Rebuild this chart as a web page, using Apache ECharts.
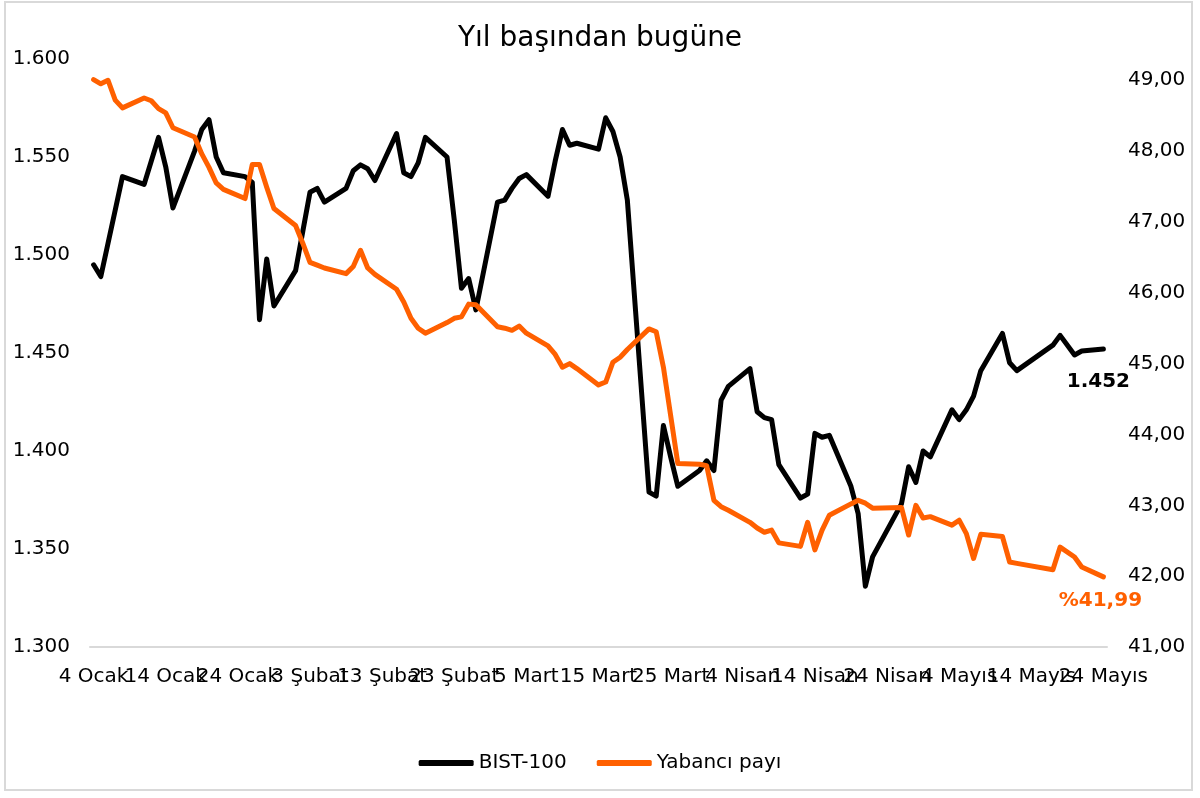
<!DOCTYPE html>
<html>
<head>
<meta charset="utf-8">
<script src="https://cdn.jsdelivr.net/npm/echarts@6/dist/echarts.min.js"></script>
<style>
html, body { margin: 0; padding: 0; background: #fff; }
#chart { width: 1200px; height: 798px; }
</style>
</head>
<body>
<div id="chart"></div>
<script>
// işlem günleri (2021)
const dates = [
  '2021-01-04','2021-01-05','2021-01-06','2021-01-07','2021-01-08',
  '2021-01-11','2021-01-12','2021-01-13','2021-01-14','2021-01-15',
  '2021-01-18','2021-01-19','2021-01-20','2021-01-21','2021-01-22',
  '2021-01-25','2021-01-26','2021-01-27','2021-01-28','2021-01-29',
  '2021-02-01','2021-02-02','2021-02-03','2021-02-04','2021-02-05',
  '2021-02-08','2021-02-09','2021-02-10','2021-02-11','2021-02-12',
  '2021-02-15','2021-02-16','2021-02-17','2021-02-18','2021-02-19',
  '2021-02-22','2021-02-23','2021-02-24','2021-02-25','2021-02-26',
  '2021-03-01','2021-03-02','2021-03-03','2021-03-04','2021-03-05',
  '2021-03-08','2021-03-09','2021-03-10','2021-03-11','2021-03-12',
  '2021-03-15','2021-03-16','2021-03-17','2021-03-18','2021-03-19',
  '2021-03-22','2021-03-23','2021-03-24','2021-03-25','2021-03-26',
  '2021-03-29','2021-03-30','2021-03-31','2021-04-01','2021-04-02',
  '2021-04-05','2021-04-06','2021-04-07','2021-04-08','2021-04-09',
  '2021-04-12','2021-04-13','2021-04-14','2021-04-15','2021-04-16',
  '2021-04-19','2021-04-20','2021-04-21','2021-04-22',
  '2021-04-26','2021-04-27','2021-04-28','2021-04-29','2021-04-30',
  '2021-05-03','2021-05-04','2021-05-05','2021-05-06','2021-05-07',
  '2021-05-10','2021-05-11','2021-05-12',
  '2021-05-17','2021-05-18','2021-05-20','2021-05-21',
  '2021-05-24'
];

const bist = [
  1495, 1489, 1506, 1523, 1540,
  1536, 1548, 1560, 1545, 1524,
  1553, 1564, 1569, 1550, 1542,
  1540, 1537, 1467, 1498, 1474,
  1492, 1512, 1532, 1534, 1527,
  1534, 1543, 1546, 1544, 1538,
  1562, 1542, 1540, 1547, 1560,
  1550, 1518, 1483, 1488, 1472,
  1527, 1528, 1534, 1539, 1541,
  1530, 1548, 1564, 1556, 1557,
  1554, 1570, 1563, 1550, 1528,
  1379, 1377, 1413, 1397, 1382,
  1390, 1395, 1390, 1426, 1433,
  1442, 1420, 1417, 1416, 1393,
  1376, 1378, 1409, 1407, 1408,
  1382, 1368, 1331, 1346,
  1373, 1392, 1384, 1400, 1397,
  1421, 1416, 1421, 1428, 1441,
  1460, 1445, 1441,
  1454, 1459, 1449, 1451,
  1452
];

const yabanci = [
  49.01, 48.95, 49.00, 48.72, 48.61,
  48.75, 48.71, 48.60, 48.54, 48.33,
  48.20, 47.96, 47.77, 47.55, 47.46,
  47.33, 47.81, 47.81, 47.49, 47.19,
  46.95, 46.70, 46.43, 46.39, 46.35,
  46.27, 46.37, 46.60, 46.35, 46.26,
  46.05, 45.87, 45.64, 45.50, 45.43,
  45.58, 45.64, 45.66, 45.84, 45.83,
  45.52, 45.50, 45.47, 45.53, 45.43,
  45.25, 45.13, 44.95, 45.00, 44.93,
  44.70, 44.74, 45.02, 45.09, 45.20,
  45.49, 45.45, 44.95, 44.27, 43.59,
  43.58, 43.56, 43.07, 42.98, 42.93,
  42.76, 42.68, 42.62, 42.65, 42.47,
  42.42, 42.76, 42.37, 42.65, 42.86,
  43.02, 43.07, 43.03, 42.96,
  42.97, 42.58, 43.00, 42.82, 42.84,
  42.72, 42.79, 42.60, 42.25, 42.59,
  42.56, 42.20, 42.18,
  42.09, 42.41, 42.27, 42.13,
  41.99
];

const ayAdlari = ['Ocak', 'Şubat', 'Mart', 'Nisan', 'Mayıs'];

// Excel tarih ekseni gibi: her takvim günü bir dilim, etiket her 10 günde bir
const gunEtiket = [];
const bistGun = [];
const yabanciGun = [];
const bas = Date.UTC(2021, 0, 4);
const son = Date.UTC(2021, 4, 24);
for (let t = bas; t <= son; t += 86400000) {
  const d = new Date(t);
  const i = dates.indexOf(d.toISOString().slice(0, 10));
  gunEtiket.push(d.getUTCDate() + ' ' + ayAdlari[d.getUTCMonth()]);
  bistGun.push(i >= 0 ? bist[i] : null);
  yabanciGun.push(i >= 0 ? yabanci[i] : null);
}

const FONT = 'DejaVu Sans';

const chart = echarts.init(document.getElementById('chart'));

const option = {
  backgroundColor: '#fff',
  textStyle: { fontFamily: FONT },
  title: {
    text: 'Yıl başından bugüne',
    left: 'center',
    top: 20,
    textStyle: { fontFamily: FONT, fontSize: 28, fontWeight: 'normal', color: '#000' }
  },
  graphic: [{
    type: 'rect',
    shape: { x: 5, y: 2, width: 1187, height: 788 },
    style: { fill: 'none', stroke: '#d9d9d9', lineWidth: 2 },
    silent: true
  }],
  legend: {
    data: ['BIST-100', 'Yabancı payı'],
    top: 748,
    left: 'center',
    icon: 'roundRect',
    itemWidth: 55,
    itemHeight: 6,
    itemGap: 30,
    textStyle: { fontFamily: FONT, fontSize: 20, color: '#000' }
  },
  grid: {
    left: 90,
    right: 93,
    top: 59,
    bottom: 151,
    containLabel: false,
    outerBoundsMode: 'none'
  },
  xAxis: {
    type: 'category',
    data: gunEtiket,
    boundaryGap: true,
    axisLine: { lineStyle: { color: '#d9d9d9', width: 2 } },
    axisTick: { show: false },
    axisLabel: {
      interval: 0,
      hideOverlap: false,
      margin: 20,
      fontFamily: FONT,
      fontSize: 20,
      color: '#000',
      formatter: (v, idx) => (idx % 10 === 0 ? v : '')
    },
    splitLine: { show: false }
  },
  yAxis: [
    {
      type: 'value',
      min: 1300,
      max: 1600,
      interval: 50,
      position: 'left',
      axisLine: { show: false },
      axisTick: { show: false },
      splitLine: { show: false },
      axisLabel: {
        margin: 20,
        fontFamily: FONT,
        fontSize: 20,
        color: '#000',
        formatter: v => (v / 1000).toFixed(3)
      }
    },
    {
      type: 'value',
      min: 41,
      max: 49.3,
      interval: 1,
      position: 'right',
      axisLine: { show: false },
      axisTick: { show: false },
      splitLine: { show: false },
      axisLabel: {
        margin: 21,
        fontFamily: FONT,
        fontSize: 20,
        color: '#000',
        formatter: v => (Math.abs(v - Math.round(v)) > 1e-6 ? '' : v.toFixed(2).replace('.', ','))
      }
    }
  ],
  series: [
    {
      name: 'BIST-100',
      type: 'line',
      yAxisIndex: 0,
      data: bistGun,
      connectNulls: true,
      symbol: 'none',
      showSymbol: false,
      animation: false,
      lineStyle: { color: '#000', width: 5, cap: 'round', join: 'round' },
      itemStyle: { color: '#000' },
      endLabel: {
        show: true,
        align: 'center',
        distance: 0,
        offset: [-5, 33],
        fontFamily: FONT,
        fontSize: 20,
        fontWeight: 'bold',
        color: '#000',
        formatter: p => (p.value / 1000).toFixed(3)
      }
    },
    {
      name: 'Yabancı payı',
      type: 'line',
      yAxisIndex: 1,
      data: yabanciGun,
      connectNulls: true,
      symbol: 'none',
      showSymbol: false,
      animation: false,
      lineStyle: { color: '#FF6000', width: 5, cap: 'round', join: 'round' },
      itemStyle: { color: '#FF6000' },
      endLabel: {
        show: true,
        align: 'center',
        distance: 0,
        offset: [-3, 24],
        fontFamily: FONT,
        fontSize: 20,
        fontWeight: 'bold',
        color: '#FF6000',
        formatter: p => '%' + p.value.toFixed(2).replace('.', ',')
      }
    }
  ]
};

chart.setOption(option);
</script>
</body>
</html>
